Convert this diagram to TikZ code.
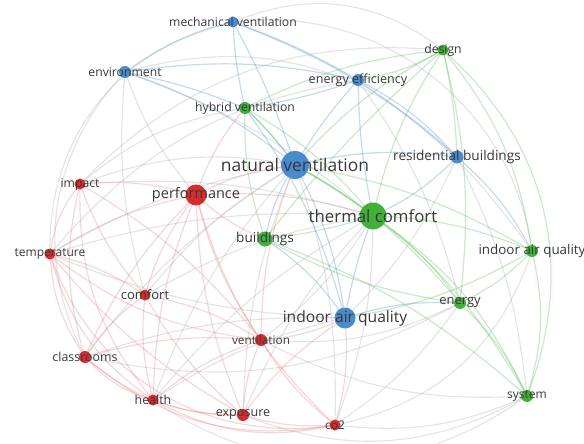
\documentclass[tikz,border=0pt]{standalone}
\usepackage{fontspec}
\setmainfont{Open Sans}
\definecolor{cR}{RGB}{214,44,48}
\definecolor{cB}{RGB}{72,140,206}
\definecolor{cG}{RGB}{64,176,58}
\definecolor{cX}{RGB}{185,185,185}
\tikzset{
  redE/.style={draw=cR!65!white,opacity=0.3,line width=1.2pt},
  bluE/.style={draw=cB!80!white,opacity=0.4,line width=1.2pt},
  grnE/.style={draw=cG!80!white,opacity=0.35,line width=1.2pt},
  gryE/.style={draw=cX,opacity=0.4,line width=1.1pt},
  dot/.style={circle,inner sep=0pt,draw=none},
  lab/.style={text=black!78,inner sep=0pt},
}
\newcommand{\fs}[1]{\fontsize{#1}{#1}\selectfont}
\begin{document}
\begin{tikzpicture}[x=1pt,y=-1pt]
\useasboundingbox (0,0) rectangle (584,444);
% node positions
\coordinate (mv) at (233,22);
\coordinate (env) at (125,72);
\coordinate (hv) at (245,108);
\coordinate (nv) at (295,165);
\coordinate (perf) at (196,195);
\coordinate (imp) at (80,184);
\coordinate (des) at (443,50);
\coordinate (ee) at (358,80);
\coordinate (rb) at (457,157);
\coordinate (tc) at (373,216);
\coordinate (bld) at (265,239);
\coordinate (iaqg) at (532,251);
\coordinate (temp) at (50,254);
\coordinate (comf) at (145,295);
\coordinate (en) at (460,303);
\coordinate (iaqb) at (345,318);
\coordinate (vent) at (261,340);
\coordinate (cls) at (85,357);
\coordinate (hl) at (153,400);
\coordinate (exp) at (243,415);
\coordinate (co2) at (335,425);
\coordinate (sys) at (527,396);
% outer arcs
\draw[gryE] (mv) to[bend right=40] (temp);
\draw[gryE] (env) to[bend right=35] (cls);
\draw[redE] (temp) to[bend right=40] (co2);
\draw[redE] (cls) to[bend right=25] (co2);
\draw[gryE] (hl) to[bend right=35] (sys);
\draw[gryE] (exp) to[bend right=25] (sys);
\draw[grnE] (des) to[bend left=35] (sys);
\draw[gryE] (mv) to[bend left=30] (des);
\draw[gryE] (mv) to[bend left=45] (iaqg);
\draw[gryE] (env) to[bend left=30] (rb);
\draw[gryE] (imp) to[bend left=25] (des);
\draw[gryE] (temp) to[bend left=20] (ee);
\draw[gryE] (co2) to[bend right=30] (iaqg);
\draw[gryE] (cls) to[bend right=20] (en);
% red cluster
\draw[redE] (imp) to[bend left=10] (perf);
\draw[redE] (imp) to[bend right=15] (temp);
\draw[redE] (imp) to[bend right=15] (cls);
\draw[redE] (imp) to[bend right=10] (comf);
\draw[redE] (imp) to[bend right=20] (hl);
\draw[redE] (imp) to[bend left=10] (vent);
\draw[redE] (temp) to[bend left=10] (perf);
\draw[redE] (temp) to[bend left=10] (comf);
\draw[redE] (temp) to[bend right=15] (cls);
\draw[redE] (temp) to[bend right=20] (hl);
\draw[redE] (temp) to[bend right=15] (vent);
\draw[redE] (temp) to[bend right=10] (exp);
\draw[redE] (comf) to[bend right=10] (cls);
\draw[redE] (comf) to[bend right=10] (hl);
\draw[redE] (comf) to[bend left=10] (perf);
\draw[redE] (comf) to[bend left=10] (vent);
\draw[redE] (comf) to[bend right=10] (exp);
\draw[redE] (cls) to[bend right=15] (hl);
\draw[redE] (cls) to[bend left=10] (perf);
\draw[redE] (cls) to[bend left=10] (vent);
\draw[redE] (cls) to[bend right=20] (exp);
\draw[redE] (hl) to[bend right=10] (exp);
\draw[redE] (hl) to[bend left=10] (vent);
\draw[redE] (hl) to[bend left=10] (perf);
\draw[redE] (hl) to[bend right=20] (co2);
\draw[redE] (exp) to[bend left=10] (vent);
\draw[redE] (exp) to[bend right=10] (co2);
\draw[redE] (exp) to[bend left=10] (perf);
\draw[redE] (vent) to[bend right=10] (co2);
\draw[redE] (vent) to[bend left=10] (perf);
\draw[redE] (co2) to[bend left=15] (perf);
\draw[redE] (co2) to[bend right=10] (iaqb);
\draw[redE] (perf) to[bend left=10] (nv);
\draw[redE] (perf) to[bend left=10] (hv);
\draw[redE] (perf) to[bend right=10] (bld);
\draw[redE] (perf) to[bend left=10] (tc);
\draw[redE] (vent) to[bend right=10] (iaqb);
\draw[redE] (vent) to[bend left=10] (nv);
\draw[redE] (exp) to[bend left=10] (iaqb);
% grey cross links
\draw[gryE] (env) to[bend right=10] (perf);
\draw[gryE] (env) to[bend right=10] (comf);
\draw[gryE] (env) to[bend left=10] (tc);
\draw[gryE] (imp) to[bend left=15] (nv);
\draw[gryE] (imp) to[bend left=15] (hv);
\draw[gryE] (imp) to[bend left=10] (tc);
\draw[gryE] (temp) to[bend left=10] (nv);
\draw[gryE] (temp) to[bend left=10] (tc);
\draw[gryE] (temp) to[bend right=10] (iaqb);
\draw[gryE] (comf) to[bend left=10] (tc);
\draw[gryE] (comf) to[bend left=10] (nv);
\draw[gryE] (cls) to[bend left=10] (nv);
\draw[gryE] (cls) to[bend left=10] (iaqb);
\draw[gryE] (hl) to[bend left=10] (nv);
\draw[gryE] (hl) to[bend left=10] (tc);
\draw[gryE] (hl) to[bend left=10] (iaqb);
\draw[gryE] (exp) to[bend left=10] (nv);
\draw[gryE] (exp) to[bend left=10] (tc);
\draw[gryE] (co2) to[bend right=10] (tc);
\draw[gryE] (co2) to[bend right=10] (nv);
\draw[gryE] (co2) to[bend right=10] (en);
\draw[gryE] (co2) to[bend right=15] (sys);
\draw[gryE] (vent) to[bend right=10] (tc);
\draw[gryE] (vent) to[bend right=15] (en);
\draw[gryE] (vent) to[bend right=15] (sys);
\draw[gryE] (rb) to[bend left=10] (iaqb);
\draw[gryE] (rb) to[bend left=10] (sys);
\draw[gryE] (ee) to[bend left=10] (iaqg);
\draw[gryE] (ee) to[bend left=10] (en);
% blue cluster
\draw[bluE] (nv) to[bend right=5] (mv);
\draw[bluE] (nv) to[bend right=10] (env);
\draw[bluE] (nv) to[bend left=5] (ee);
\draw[bluE] (nv) to[bend left=10] (rb);
\draw[bluE] (nv) to[bend left=10] (iaqb);
\draw[bluE] (nv) to[bend right=5] (hv);
\draw[bluE] (nv) to[bend right=10] (bld);
\draw[bluE] (env) to[bend left=5] (hv);
\draw[bluE] (env) to[bend left=10] (mv);
\draw[bluE] (mv) to[bend right=5] (hv);
\draw[bluE] (mv) to[bend left=5] (ee);
\draw[bluE] (mv) to[bend left=10] (rb);
\draw[bluE] (ee) to[bend left=10] (rb);
\draw[bluE] (ee) to[bend left=5] (hv);
\draw[bluE] (ee) to[bend right=5] (tc);
\draw[bluE] (rb) to[bend left=10] (tc);
\draw[bluE] (iaqb) to[bend left=5] (tc);
\draw[bluE] (iaqb) to[bend left=10] (en);
\draw[bluE] (iaqb) to[bend right=10] (bld);
\draw[bluE] (iaqb) to[bend right=10] (hv);
\draw[bluE] (rb) to[bend left=10] (iaqg);
\draw[bluE] (env) to[bend left=10] (ee);
% green cluster
\draw[grnE] (tc) to[bend left=10] (des);
\draw[grnE] (tc) to[bend right=10] (hv);
\draw[grnE] (tc) to[bend left=5] (bld);
\draw[grnE] (tc) to[bend left=10] (en);
\draw[grnE] (tc) to[bend left=10] (iaqg);
\draw[grnE] (tc) to[bend left=15] (sys);
\draw[grnE] (tc) to[bend right=5] (nv);
\draw[grnE] (des) to[bend left=10] (ee);
\draw[grnE] (des) to[bend left=5] (rb);
\draw[grnE] (des) to[bend left=15] (iaqg);
\draw[grnE] (des) to[bend left=10] (en);
\draw[grnE] (des) to[bend right=10] (nv);
\draw[grnE] (des) to[bend right=10] (hv);
\draw[grnE] (des) to[bend right=5] (bld);
\draw[grnE] (iaqg) to[bend left=10] (en);
\draw[grnE] (iaqg) to[bend left=15] (sys);
\draw[grnE] (iaqg) to[bend right=10] (nv);
\draw[grnE] (iaqg) to[bend left=10] (iaqb);
\draw[grnE] (en) to[bend left=10] (sys);
\draw[grnE] (en) to[bend right=10] (nv);
\draw[grnE] (sys) to[bend right=15] (nv);
\draw[grnE] (sys) to[bend right=10] (bld);
\draw[grnE] (bld) to[bend left=10] (hv);
\draw[grnE] (hv) to[bend left=5] (nv);
\draw[grnE] (bld) to[bend right=10] (en);
% nodes
\node[dot,fill=cB,minimum size=11pt] (nmv) at (mv) {};
\node[dot,fill=cB,minimum size=12pt] (nenv) at (env) {};
\node[dot,fill=cG,minimum size=12pt] (nhv) at (hv) {};
\node[dot,fill=cB,minimum size=28pt] (nnv) at (nv) {};
\node[dot,fill=cR,minimum size=21pt] (nperf) at (perf) {};
\node[dot,fill=cR,minimum size=11pt] (nimp) at (imp) {};
\node[dot,fill=cG,minimum size=11pt] (ndes) at (des) {};
\node[dot,fill=cB,minimum size=12pt] (nee) at (ee) {};
\node[dot,fill=cB,minimum size=13pt] (nrb) at (rb) {};
\node[dot,fill=cG,minimum size=27pt] (ntc) at (tc) {};
\node[dot,fill=cG,minimum size=15pt] (nbld) at (bld) {};
\node[dot,fill=cG,minimum size=12pt] (niaqg) at (iaqg) {};
\node[dot,fill=cR,minimum size=11pt] (ntemp) at (temp) {};
\node[dot,fill=cR,minimum size=11pt] (ncomf) at (comf) {};
\node[dot,fill=cG,minimum size=12pt] (nen) at (en) {};
\node[dot,fill=cB,minimum size=21pt] (niaqb) at (iaqb) {};
\node[dot,fill=cR,minimum size=12pt] (nvent) at (vent) {};
\node[dot,fill=cR,minimum size=12pt] (ncls) at (cls) {};
\node[dot,fill=cR,minimum size=11pt] (nhl) at (hl) {};
\node[dot,fill=cR,minimum size=12pt] (nexp) at (exp) {};
\node[dot,fill=cR,minimum size=11pt] (nco2) at (co2) {};
\node[dot,fill=cG,minimum size=12pt] (nsys) at (sys) {};
% labels
\node[lab,font=\fs{12.2}] at (mv) {mechanical ventilation};
\node[lab,font=\fs{12.2}] at (env) {environment};
\node[lab,font=\fs{12.2}] at (hv) {hybrid ventilation};
\node[lab,font=\fs{17.4}] at (nv) {natural ventilation};
\node[lab,font=\fs{14.5}] at (perf) {performance};
\node[lab,font=\fs{12.2}] at (imp) {impact};
\node[lab,font=\fs{12.2}] at (des) {design};
\node[lab,font=\fs{12.6}] at (ee) {energy efficiency};
\node[lab,font=\fs{13.6}] at (rb) {residential buildings};
\node[lab,font=\fs{16.8}] at (tc) {thermal comfort};
\node[lab,font=\fs{13.6}] at (bld) {buildings};
\node[lab,font=\fs{13.4}] at (iaqg) {indoor air quality};
\node[lab,font=\fs{12}] at (temp) {temperature};
\node[lab,font=\fs{13}] at (comf) {comfort};
\node[lab,font=\fs{13}] at (en) {energy};
\node[lab,font=\fs{15.6}] at (iaqb) {indoor air quality};
\node[lab,font=\fs{11.8}] at (vent) {ventilation};
\node[lab,font=\fs{12.4}] at (cls) {classrooms};
\node[lab,font=\fs{12.4}] at (hl) {health};
\node[lab,font=\fs{12.6}] at (exp) {exposure};
\node[lab,font=\fs{12}] at (co2) {co2};
\node[lab,font=\fs{12}] at (sys) {system};
\end{tikzpicture}
\end{document}
